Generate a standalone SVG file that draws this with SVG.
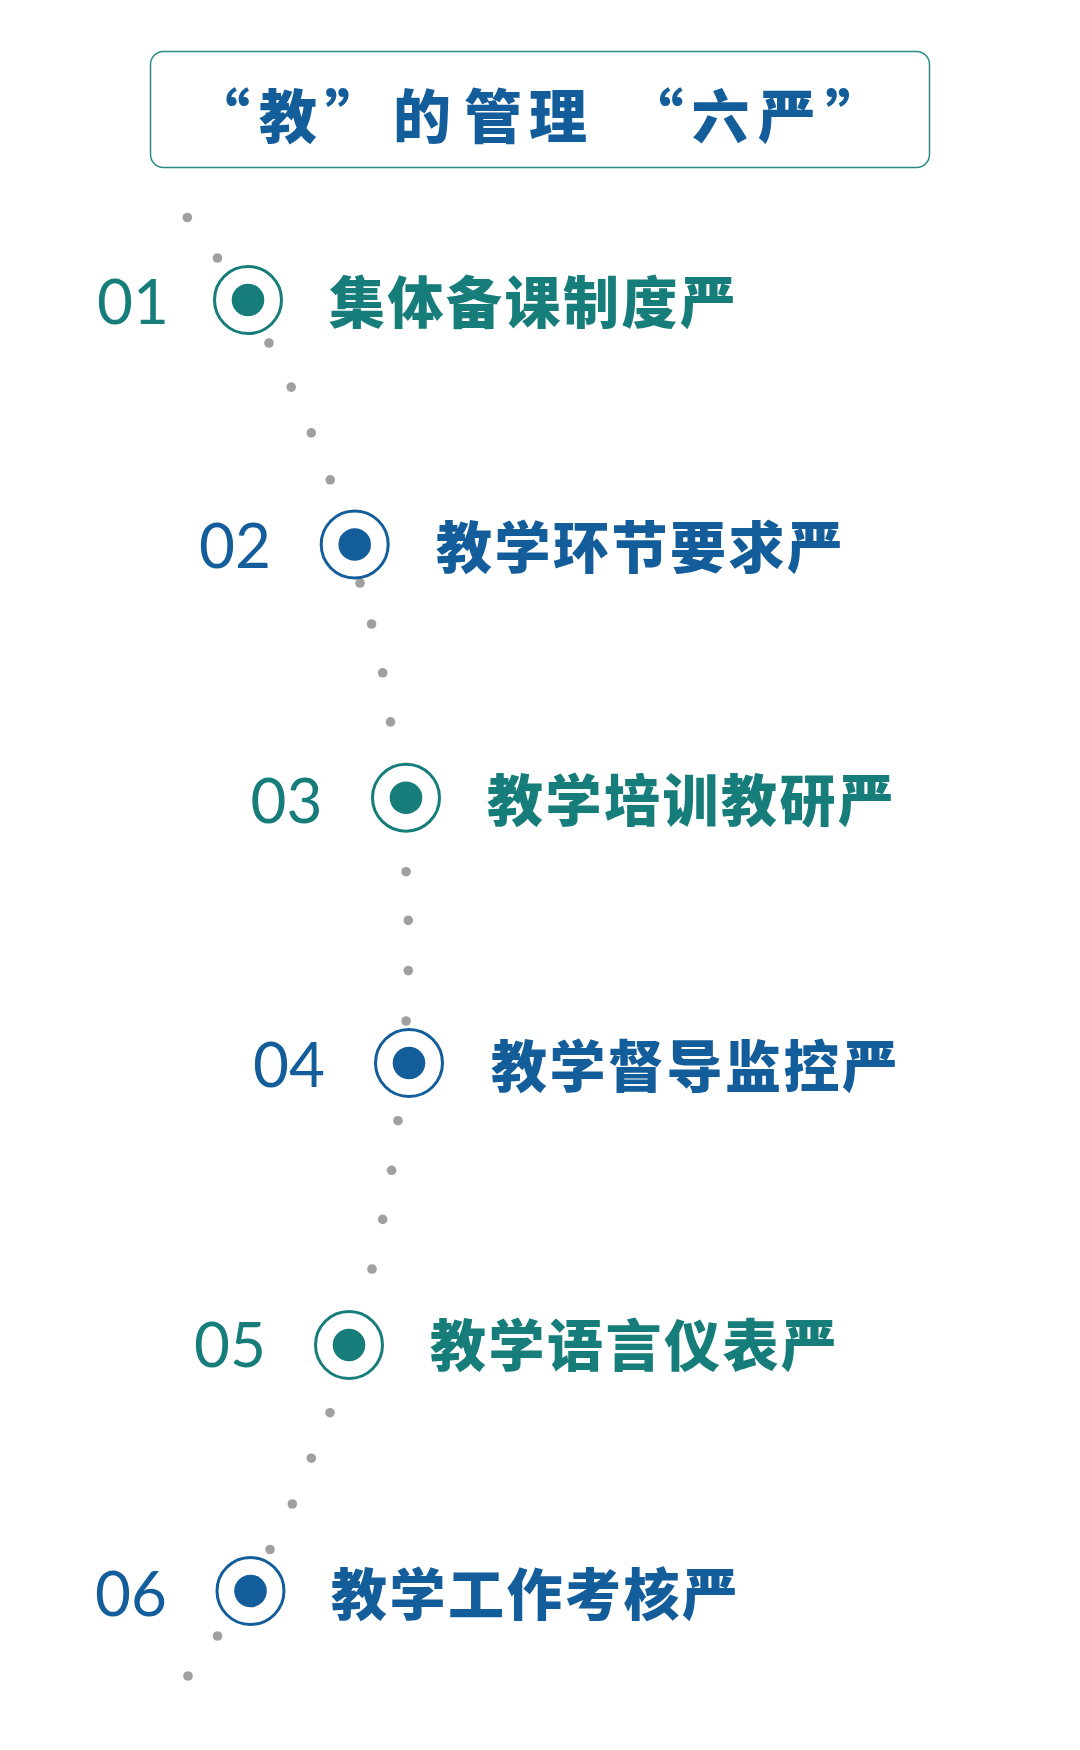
<svg xmlns="http://www.w3.org/2000/svg" width="1080" height="1750" viewBox="0 0 1080 1750">
  <style>
    .teal { fill: #167d7a; }
    .blue { fill: #135d9b; }
    .ring-teal { fill: #ffffff; stroke: #167d7a; stroke-width: 3; }
    .ring-blue { fill: #ffffff; stroke: #135d9b; stroke-width: 3; }
    .num { font-family: Lato, "Open Sans", "Liberation Sans", sans-serif; font-size: 62px; font-weight: 400; }
    .label { font-family: "Noto Sans CJK SC", "Noto Sans", sans-serif; font-size: 56px; font-weight: 900; letter-spacing: 2.5px; dominant-baseline: central; }
    .title { font-family: "Noto Sans CJK SC", "Noto Sans", sans-serif; font-size: 58px; font-weight: 900; dominant-baseline: central; fill: #135d9b; text-anchor: middle; }
    .dot { fill: #a0a0a0; }
  </style>
  <rect width="1080" height="1750" fill="#ffffff"/>

  <g id="title">
    <rect x="150.5" y="51.5" width="779" height="116" rx="13" ry="13" fill="#ffffff" stroke="#2a8a87" stroke-width="1.5"/>
    <text class="title" x="221" y="113">“</text>
    <text class="title" x="288" y="113">教</text>
    <text class="title" x="354" y="113">”</text>
    <text class="title" x="422" y="113">的</text>
    <text class="title" x="493" y="113">管</text>
    <text class="title" x="558" y="113">理</text>
    <text class="title" x="654.5" y="113">“</text>
    <text class="title" x="720.5" y="113">六</text>
    <text class="title" x="787" y="113">严</text>
    <text class="title" x="854.5" y="113">”</text>
  </g>

  <g id="connectors">
    <circle class="dot" cx="187.3" cy="217.5" r="4.8"/>
    <circle class="dot" cx="217.5" cy="258" r="4.8"/>
    <circle class="dot" cx="269" cy="343" r="4.8"/>
    <circle class="dot" cx="291.2" cy="387.1" r="4.8"/>
    <circle class="dot" cx="311.3" cy="432.9" r="4.8"/>
    <circle class="dot" cx="330.2" cy="479.8" r="4.8"/>
    <circle class="dot" cx="360" cy="583" r="4.8"/>
    <circle class="dot" cx="371.6" cy="624" r="4.8"/>
    <circle class="dot" cx="382.7" cy="672.8" r="4.8"/>
    <circle class="dot" cx="390.5" cy="721.9" r="4.8"/>
    <circle class="dot" cx="406.1" cy="871.7" r="4.8"/>
    <circle class="dot" cx="408.3" cy="920.4" r="4.8"/>
    <circle class="dot" cx="408.3" cy="970.6" r="4.8"/>
    <circle class="dot" cx="406.1" cy="1021" r="4.8"/>
    <circle class="dot" cx="398" cy="1120.7" r="4.8"/>
    <circle class="dot" cx="391.6" cy="1170.3" r="4.8"/>
    <circle class="dot" cx="382.7" cy="1219.4" r="4.8"/>
    <circle class="dot" cx="372" cy="1269" r="4.8"/>
    <circle class="dot" cx="330" cy="1412.7" r="4.8"/>
    <circle class="dot" cx="311.3" cy="1458.2" r="4.8"/>
    <circle class="dot" cx="292.3" cy="1504" r="4.8"/>
    <circle class="dot" cx="270" cy="1549.5" r="4.8"/>
    <circle class="dot" cx="217.5" cy="1636" r="4.8"/>
    <circle class="dot" cx="188" cy="1676" r="4.8"/>
  </g>

  <g id="node-01">
    <text class="num teal" x="97" y="324">01</text>
    <circle class="ring-teal" cx="248" cy="300" r="33.5"/>
    <circle class="teal" cx="248" cy="300" r="16.3"/>
    <text class="label teal" x="329" y="298.5">集体备课制度严</text>
  </g>

  <g id="node-02">
    <text class="num blue" x="199" y="568">02</text>
    <circle class="ring-blue" cx="354.7" cy="544.5" r="33.5"/>
    <circle class="blue" cx="354.7" cy="544.5" r="16.3"/>
    <text class="label blue" x="436" y="543">教学环节要求严</text>
  </g>

  <g id="node-03">
    <text class="num teal" x="250.5" y="823">03</text>
    <circle class="ring-teal" cx="406" cy="797.7" r="33.5"/>
    <circle class="teal" cx="406" cy="797.7" r="16.3"/>
    <text class="label teal" x="487" y="796">教学培训教研严</text>
  </g>

  <g id="node-04">
    <text class="num blue" x="253" y="1087">04</text>
    <circle class="ring-blue" cx="409" cy="1063" r="33.5"/>
    <circle class="blue" cx="409" cy="1063" r="16.3"/>
    <text class="label blue" x="491" y="1062">教学督导监控严</text>
  </g>

  <g id="node-05">
    <text class="num teal" x="194" y="1367">05</text>
    <circle class="ring-teal" cx="349" cy="1345" r="33.5"/>
    <circle class="teal" cx="349" cy="1345" r="16.3"/>
    <text class="label teal" x="430" y="1341">教学语言仪表严</text>
  </g>

  <g id="node-06">
    <text class="num blue" x="95" y="1616">06</text>
    <circle class="ring-blue" cx="250.5" cy="1591" r="33.5"/>
    <circle class="blue" cx="250.5" cy="1591" r="16.3"/>
    <text class="label blue" x="331" y="1590">教学工作考核严</text>
  </g>
</svg>
